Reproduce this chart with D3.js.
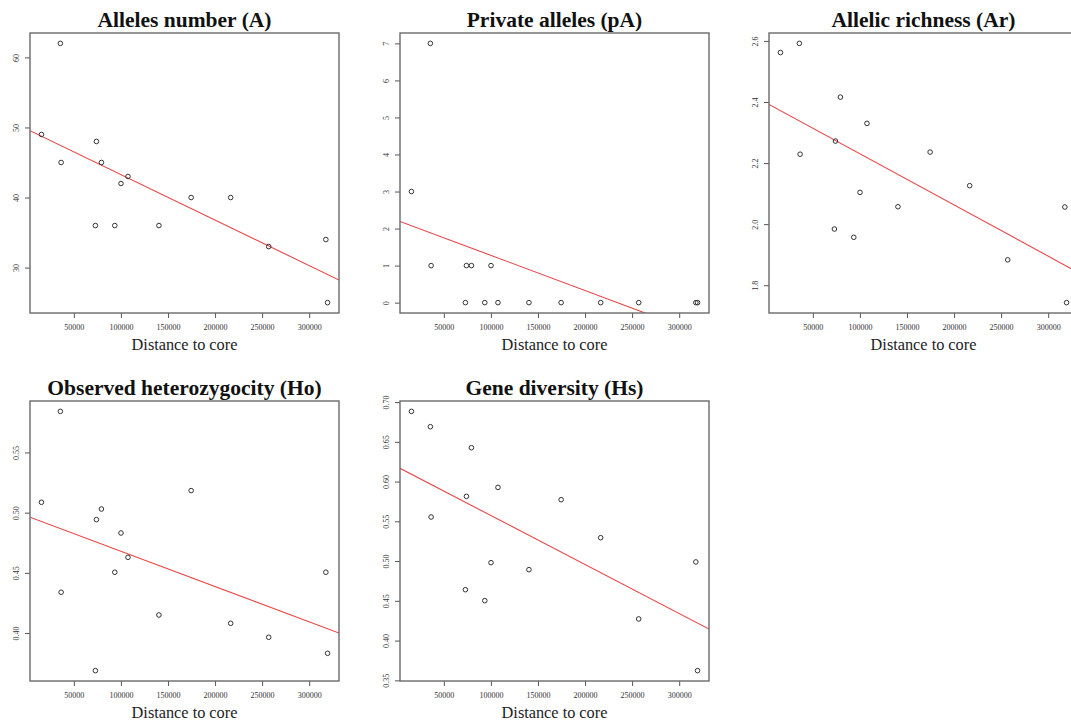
<!DOCTYPE html>
<html>
<head>
<meta charset="utf-8">
<script src="https://cdn.jsdelivr.net/npm/d3@7"></script>
<style>
  body { margin: 0; background: #fff; }
  svg { display: block; font-family: "Liberation Serif", "Times New Roman", serif; }
</style>
</head>
<body>
<svg id="chart" width="1071" height="726"></svg>
<script>
// ----------- DATA -----------
// distance of each population to the core (shared by all panels)
var distance = [15600, 35700, 36500, 72900, 74000, 79300, 93500, 100100, 107500, 140400, 174600, 216600, 257000, 317700, 319500];

var allelesNumber   = [49, 62, 45, 36, 48, 45, 36, 42, 43, 36, 40, 40, 33, 34, 25];
var privateAlleles  = [3, 7, 1, 0, 1, 1, 0, 1, 0, 0, 0, 0, 0, 0, 0];
var allelicRichness = [2.562, 2.592, 2.229, 1.984, 2.272, 2.416, 1.957, 2.104, 2.330, 2.057, 2.236, 2.126, 1.883, 2.056, 1.743];
var observedHet     = [0.5086, 0.5841, 0.4339, 0.3688, 0.4942, 0.5030, 0.4505, 0.4831, 0.4629, 0.4150, 0.5183, 0.4081, 0.3965, 0.4505, 0.3832];
var geneDiversity   = [0.6883, 0.6690, 0.5554, 0.4640, 0.5814, 0.6426, 0.4502, 0.4980, 0.5927, 0.4892, 0.5772, 0.5294, 0.4272, 0.4989, 0.3622];

var titles = ["Alleles number (A)", "Private alleles (pA)", "Allelic richness (Ar)", "Observed heterozygocity (Ho)", "Gene diversity (Hs)"];

// tick labels
var xTicks = [50000, 100000, 150000, 200000, 250000, 300000];
var yTicksA  = ["30", "40", "50", "60"];
var yTicksPA = ["0", "1", "2", "3", "4", "5", "6", "7"];
var yTicksAr = ["1.8", "2.0", "2.2", "2.4", "2.6"];
var yTicksHo = ["0.40", "0.45", "0.50", "0.55"];
var yTicksHs = ["0.35", "0.40", "0.45", "0.50", "0.55", "0.60", "0.65", "0.70"];
// ----------- END DATA -----------

var svg = d3.select("#chart");

// plot box size and where each panel sits
var boxW = 309, boxH = 280;
var panels = [
  { x: 30,  y: 33,  values: allelesNumber,   ticks: yTicksA },
  { x: 400, y: 33,  values: privateAlleles,  ticks: yTicksPA },
  { x: 769, y: 33,  values: allelicRichness, ticks: yTicksAr },
  { x: 30,  y: 401, values: observedHet,     ticks: yTicksHo },
  { x: 400, y: 401, values: geneDiversity,   ticks: yTicksHs }
];

// R style axis range: data range extended by 4% each side
function rDomain(arr) {
  var ext = d3.extent(arr);
  var pad = (ext[1] - ext[0]) * 0.04;
  return [ext[0] - pad, ext[1] + pad];
}

// simple least squares fit, like abline(lm(y ~ x))
function linFit(xs, ys) {
  var mx = d3.mean(xs), my = d3.mean(ys);
  var sxy = 0, sxx = 0;
  for (var i = 0; i < xs.length; i++) {
    sxy += (xs[i] - mx) * (ys[i] - my);
    sxx += (xs[i] - mx) * (xs[i] - mx);
  }
  var b = sxy / sxx;
  return { a: my - b * mx, b: b };
}

var xDomain = rDomain(distance);

panels.forEach(function(p, i) {
  var g = svg.append("g").attr("transform", "translate(" + p.x + "," + p.y + ")");

  var x = d3.scaleLinear().domain(xDomain).range([0, boxW]);
  var y = d3.scaleLinear().domain(rDomain(p.values)).range([boxH, 0]);

  // clip for the regression line
  var clipId = "clip" + i;
  g.append("clipPath").attr("id", clipId)
    .append("rect").attr("width", boxW).attr("height", boxH);

  // x axis
  var xAxis = d3.axisBottom(x).tickValues(xTicks).tickSize(5).tickSizeOuter(0).tickFormat(d3.format("d"));
  var xg = g.append("g").attr("transform", "translate(0," + boxH + ")").call(xAxis);
  xg.select(".domain").remove();
  xg.selectAll("line").attr("stroke", "#555");
  xg.selectAll("text")
    .attr("y", 11)
    .attr("fill", "#333")
    .style("font-family", "Liberation Serif, serif")
    .style("font-size", "8px");

  // y axis (labels parallel to axis like R)
  var yAxis = d3.axisLeft(y).tickValues(p.ticks.map(Number)).tickSize(5).tickSizeOuter(0)
    .tickFormat(function(d, k) { return p.ticks[k]; });
  var yg = g.append("g").call(yAxis);
  yg.select(".domain").remove();
  yg.selectAll("line").attr("stroke", "#555");
  yg.selectAll("text")
    .attr("x", null).attr("dy", null)
    .attr("transform", "translate(-11.5,0) rotate(-90)")
    .attr("text-anchor", "middle")
    .attr("fill", "#333")
    .style("font-family", "Liberation Serif, serif")
    .style("font-size", "8px");

  // regression line
  var fit = linFit(distance, p.values);
  g.append("line")
    .attr("clip-path", "url(#" + clipId + ")")
    .attr("x1", x(xDomain[0])).attr("y1", y(fit.a + fit.b * xDomain[0]))
    .attr("x2", x(xDomain[1])).attr("y2", y(fit.a + fit.b * xDomain[1]))
    .attr("stroke", "#e5484a")
    .attr("stroke-width", 1.1);

  // points
  g.selectAll("circle.pt")
    .data(p.values)
    .enter()
    .append("circle")
    .attr("class", "pt")
    .attr("cx", function(d, k) { return x(distance[k]); })
    .attr("cy", function(d) { return y(d); })
    .attr("r", 2.3)
    .attr("fill", "none")
    .attr("stroke", "#333")
    .attr("stroke-width", 1);

  // box
  g.append("rect")
    .attr("width", boxW).attr("height", boxH)
    .attr("fill", "none")
    .attr("stroke", "#6a6a6a")
    .attr("stroke-width", 1.4);

  // title
  g.append("text")
    .attr("x", boxW / 2).attr("y", -6.5)
    .attr("text-anchor", "middle")
    .style("font-weight", "bold")
    .style("font-size", "21.5px")
    .attr("fill", "#111")
    .text(titles[i]);

  // x label
  g.append("text")
    .attr("x", boxW / 2).attr("y", boxH + 36.5)
    .attr("text-anchor", "middle")
    .style("font-size", "16.3px")
    .attr("fill", "#222")
    .text("Distance to core");
});
</script>
</body>
</html>
